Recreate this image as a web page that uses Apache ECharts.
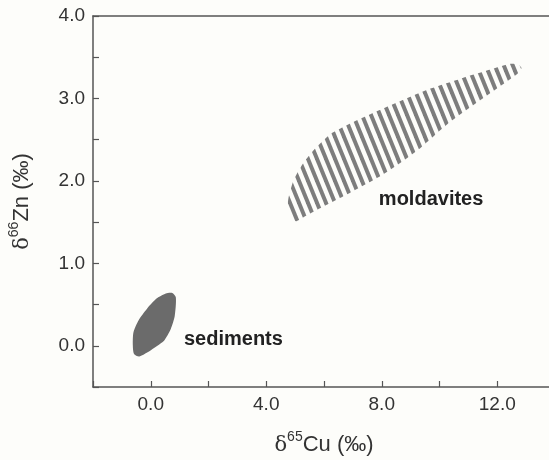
<!DOCTYPE html>
<html>
<head>
<meta charset="utf-8">
<script src="https://cdn.jsdelivr.net/npm/echarts@6/dist/echarts.min.js"></script>
<style>
  html, body { margin: 0; padding: 0; background: #fdfdfa; }
  #chart { width: 549px; height: 460px; }
</style>
</head>
<body>
<div id="chart"></div>
<script>
// outlines of the two fields, in data units [d65Cu, d66Zn]
const sedimentsOutline = [
  [0.75, 0.64], [0.87, 0.585], [0.83, 0.36], [0.69, 0.20], [0.46, 0.06],
  [0.23, 0.0], [-0.11, -0.08], [-0.40, -0.13], [-0.58, -0.10], [-0.62, 0.0],
  [-0.60, 0.16], [-0.42, 0.31], [-0.13, 0.45], [0.21, 0.575], [0.52, 0.635]
]
const moldavitesOutline = [
  [5.02, 1.51], [4.84, 1.57], [4.74, 1.68], [4.78, 1.81], [4.95, 2.01],
  [5.29, 2.22], [5.71, 2.40], [6.23, 2.57], [6.92, 2.70], [7.79, 2.84],
  [8.65, 2.97], [9.69, 3.12], [10.73, 3.24], [11.76, 3.35], [12.46, 3.42],
  [12.73, 3.41], [12.84, 3.37], [12.70, 3.30], [11.42, 2.98], [10.28, 2.69],
  [9.34, 2.40], [8.65, 2.22], [7.96, 2.06], [6.92, 1.86], [5.88, 1.67],
  [5.29, 1.56]
]
const fieldNames = ['sediments', 'moldavites']
const fieldLabelPos = [[1.15, 0.08], [7.9, 1.77]]

const xTicks = [-2, 14, 2]   // min, max, step
const yTicks = [-0.5, 4.0, 0.5]

const axisColor = '#555'
const textColor = '#333'
const font = '"Liberation Sans", Arial, sans-serif'

// diagonal hatch for the moldavites field
const makeHatch = () => {
  const w = 9
  const h = 22
  const c = document.createElement('canvas')
  c.width = w
  c.height = h
  const ctx = c.getContext('2d')
  ctx.strokeStyle = '#7d7d7d'
  ctx.lineWidth = 4
  for (let k = -1; k <= 1; k++) {
    ctx.beginPath()
    ctx.moveTo(k * w - 1, -2.44)
    ctx.lineTo(k * w + w + 1, h + 2.44)
    ctx.stroke()
  }
  return { image: c, repeat: 'repeat' }
}

const fieldSeries = (outline, fill, smooth) => ({
  type: 'custom',
  silent: true,
  data: [0],
  renderItem: (params, api) => ({
    type: 'polygon',
    shape: { points: outline.map((p) => api.coord(p)), smooth },
    style: { fill },
  }),
})

const nameRich = {
  g: { fontFamily: '"DejaVu Serif", serif', fontSize: 21, color: textColor, verticalAlign: 'bottom', lineHeight: 26 },
  s: { fontFamily: font, fontSize: 14, color: textColor, verticalAlign: 'top', lineHeight: 26 },
  t: { fontFamily: font, fontSize: 22, color: textColor, verticalAlign: 'bottom', lineHeight: 26 },
}

const chart = echarts.init(document.getElementById('chart'))

chart.setOption({
  backgroundColor: '#fdfdfa',
  animation: false,
  grid: { left: 93, right: -6, top: 16, bottom: 73, containLabel: false, outerBoundsMode: 'none' },
  xAxis: [
    {
      type: 'value',
      min: xTicks[0],
      max: xTicks[1],
      interval: xTicks[2],
      position: 'bottom',
      name: '{g|δ}{s|65}{t|Cu (‰)}',
      nameLocation: 'middle',
      nameGap: 43,
      nameTextStyle: { rich: nameRich },
      axisLine: { onZero: false, lineStyle: { color: axisColor, width: 1.5 } },
      axisTick: { inside: true, length: 6, lineStyle: { color: axisColor, width: 1.2 } },
      axisLabel: {
        color: textColor,
        fontFamily: font,
        fontSize: 19,
        margin: 8,
        formatter: (v) => (v % 4 === 0 ? v.toFixed(1) : ''),
      },
      splitLine: { show: false },
    },
    {
      type: 'value',
      min: xTicks[0],
      max: xTicks[1],
      position: 'top',
      axisLine: { onZero: false, lineStyle: { color: axisColor, width: 1.5 } },
      axisTick: { show: false },
      axisLabel: { show: false },
      splitLine: { show: false },
    },
  ],
  yAxis: {
    type: 'value',
    min: yTicks[0],
    max: yTicks[1],
    interval: yTicks[2],
    name: '{g|δ}{s|66}{t|Zn (‰)}',
    nameLocation: 'middle',
    nameRotate: 90,
    nameGap: 60,
    nameTextStyle: { rich: nameRich },
    axisLine: { show: true, onZero: false, lineStyle: { color: axisColor, width: 1.5 } },
    axisTick: { show: true, inside: true, length: 6, lineStyle: { color: axisColor, width: 1.2 } },
    axisLabel: {
      color: textColor,
      fontFamily: font,
      fontSize: 19,
      margin: 8,
      formatter: (v) => (Number.isInteger(v) ? v.toFixed(1) : ''),
    },
    splitLine: { show: false },
  },
  series: [
    fieldSeries(sedimentsOutline, '#6b6b6b', 0.25),
    fieldSeries(moldavitesOutline, makeHatch(), 0.2),
    {
      type: 'custom',
      silent: true,
      data: fieldLabelPos.map((p, i) => [p[0], p[1], i]),
      renderItem: (params, api) => {
        const pt = api.coord([api.value(0), api.value(1)])
        return {
          type: 'text',
          x: pt[0],
          y: pt[1],
          style: {
            text: fieldNames[api.value(2)],
            fill: '#222',
            font: 'bold 20px "Liberation Sans", Arial, sans-serif',
            verticalAlign: 'middle',
            align: 'left',
          },
        }
      },
    },
  ],
})
</script>
</body>
</html>
